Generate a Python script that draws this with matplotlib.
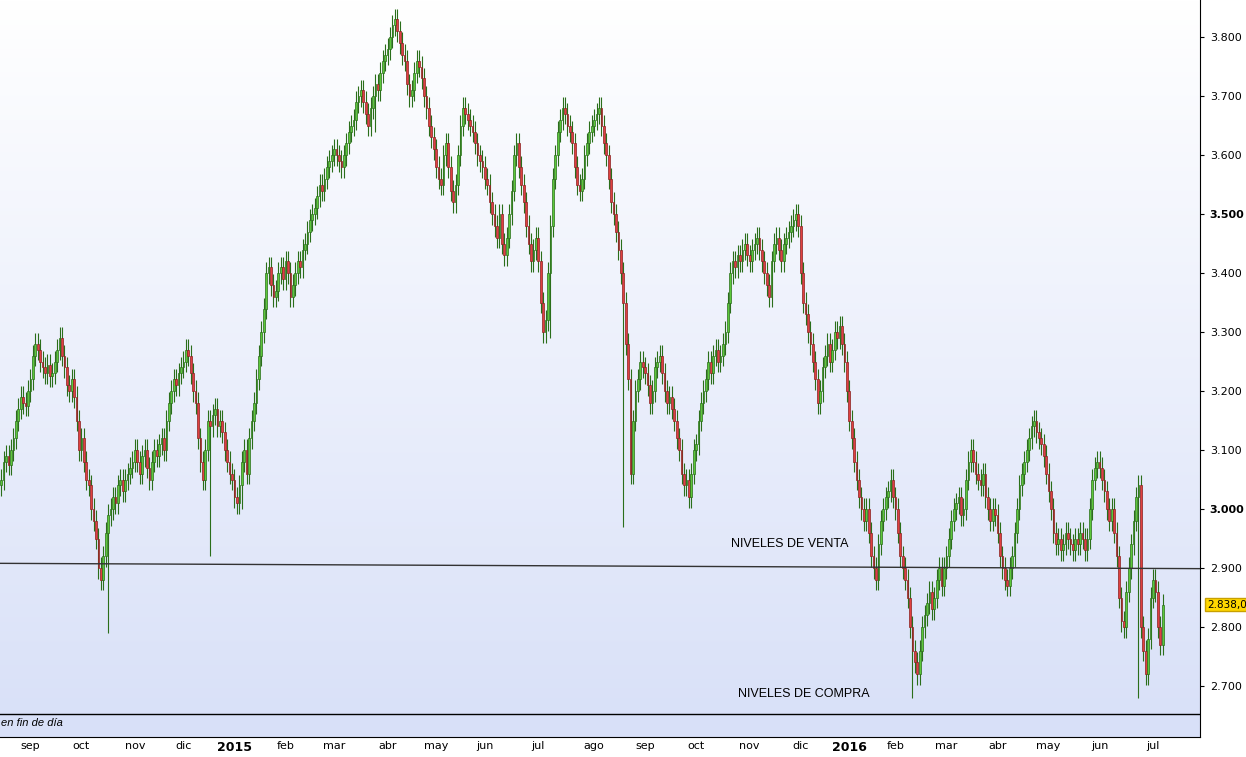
import matplotlib
matplotlib.use("Agg")
import matplotlib.pyplot as plt
import numpy as np
from matplotlib.colors import LinearSegmentedColormap

month_labels = ["sep","oct","nov","dic","2015","feb","mar","abr","may","jun","jul","ago",
                "sep","oct","nov","dic","2016","feb","mar","abr","may","jun","jul"]
closes_by_month = [
 [3050,3080,3090,3075,3100,3120,3150,3170,3190,3180,3175,3200],
 [3220,3260,3280,3270,3250,3240,3230,3245,3225,3230,3250,3270,3290,3260,3240,3210,3200,3220,3190,3150,3100],
 [3120,3080,3050,3040,3000,2980,2950,2900,2880,2920,2960,2990,3000,3020,3010,3040,3050,3030,3050,3060,3070,3080],
 [3100,3080,3060,3090,3100,3070,3050,3080,3100,3090,3110,3120,3100,3150,3180,3200,3220,3210,3230,3240],
 [3250,3270,3260,3230,3200,3180,3120,3080,3050,3100,3150,3140,3160,3170,3140,3150,3130,3100,3080,3060,3050],
 [3020,3010,3040,3080,3100,3060,3120,3150,3180,3220,3260,3300,3340,3400,3410,3380,3360,3370,3400,3410,3390],
 [3420,3400,3360,3380,3400,3420,3410,3440,3450,3470,3490,3500,3510,3530,3550,3540,3560,3580,3590,3600],
 [3610,3600,3590,3580,3600,3620,3640,3650,3660,3690,3700,3710,3690,3670,3650,3680,3700,3720,3710,3740,3760,3770],
 [3780,3800,3820,3830,3810,3790,3770,3760,3720,3700,3710,3740,3760,3750,3730,3700,3680,3650,3630,3610],
 [3580,3560,3550,3600,3620,3580,3540,3520,3550,3600,3650,3680,3670,3660,3650,3640,3620,3600,3590,3580],
 [3560,3550,3520,3500,3480,3460,3500,3450,3430,3460,3500,3540,3600,3620,3580,3550,3520,3480,3450,3420,3440,3460],
 [3420,3350,3300,3320,3400,3480,3560,3600,3640,3660,3680,3670,3650,3640,3620,3580,3550,3540,3560,3600,3620,3640,3650],
 [3660,3670,3680,3650,3620,3600,3560,3520,3500,3470,3440,3400,3350,3280,3220,3060,3150,3200,3220,3250,3240],
 [3230,3210,3180,3200,3240,3250,3260,3230,3200,3180,3190,3170,3150,3120,3100,3060,3040,3050,3020,3060,3100],
 [3110,3150,3180,3200,3220,3250,3230,3260,3270,3250,3260,3280,3300,3350,3400,3420,3410,3430,3420,3440,3450,3430],
 [3420,3440,3450,3460,3440,3420,3400,3380,3360,3420,3450,3460,3440,3420,3450,3460,3470,3480,3490,3500,3480],
 [3400,3350,3330,3300,3280,3250,3220,3180,3200,3240,3260,3280,3250,3270,3300,3290,3310,3280,3250,3200],
 [3150,3120,3080,3050,3020,3000,2980,3000,2960,2920,2900,2880,2940,2980,3000,3020,3030,3050,3020],
 [3000,2960,2920,2900,2880,2850,2800,2760,2740,2720,2760,2800,2820,2840,2860,2830,2850,2880,2900,2870,2900],
 [2920,2950,2980,3000,3010,3020,2990,3000,3050,3080,3100,3080,3060,3050,3040,3060,3020,3000,2980,3000,2990],
 [2960,2920,2900,2880,2870,2900,2920,2960,3000,3040,3060,3080,3100,3120,3140,3150,3130,3120,3110,3090,3060],
 [3030,3000,2960,2940,2950,2930,2940,2960,2950,2940,2930,2950,2940,2960,2950,2930,2950,3000,3050,3070,3080],
 [3070,3050,3030,3000,2980,3000,2960,2920,2850,2810,2800,2860,2900,2940,2980,3020,3040,2800,2760,2720,2780,2850],
 [2880,2860,2800,2770,2838],
]
# notable long lower wicks: (day index, low)
wick_lows = [(44, 2790), (86, 2920), (99, 3000), (154, 3640), (226, 3290), (256, 2970), (375, 2680), (468, 2680)]

closes = np.array([c for m in closes_by_month for c in m]) / 1000.0
opens = np.concatenate([[closes[0] - 0.01], closes[:-1]])
hi = np.maximum(opens, closes) + 0.018
lo = np.minimum(opens, closes) - 0.018
for i, l in wick_lows:
    lo[i] = min(lo[i], l / 1000.0)

month_starts = np.cumsum([len(m) for m in closes_by_month])[:-1]
n = len(closes)

fig = plt.figure(figsize=(12.46, 7.57), dpi=100)
ax = fig.add_axes([0, 20/757, 1200/1246, 737/757])
xmax = 1200/2.43 - 0.5
ax.set_xlim(-0.5, xmax)
ax.set_ylim(2.6136, 3.863)
grad = np.linspace(0, 1, 256).reshape(-1, 1)
cm = LinearSegmentedColormap.from_list("bg", ["#d8e0f8", "#ffffff"])
ax.imshow(grad, aspect="auto", cmap=cm, origin="lower",
          extent=[-0.5, xmax, 2.6136, 3.863], zorder=0)

x = np.arange(n)
up = closes >= opens
ax.vlines(x, lo, hi, color="#2a6e1a", lw=0.8, zorder=2)
for i in range(n):
    b = min(opens[i], closes[i]); h = max(abs(closes[i]-opens[i]), 0.002)
    fc = "#5cc83a" if up[i] else "#e04040"
    ec = "#2a6e1a" if up[i] else "#8a2020"
    ax.add_patch(plt.Rectangle((x[i]-0.35, b), 0.7, h, facecolor=fc, edgecolor=ec, lw=0.5, zorder=3))

ax.plot([-0.5, xmax], [2.908, 2.899], color="#333333", lw=1, zorder=4)
ax.axhline(2.6525, color="black", lw=1, zorder=4)
ax.text(730/2.43, 2.935, "NIVELES DE VENTA", fontsize=9, family="Liberation Sans")
ax.text(737/2.43, 2.682, "NIVELES DE COMPRA", fontsize=9, family="Liberation Sans")
ax.text(0, 2.633, "en fin de día", fontsize=8, style="italic", family="Liberation Sans")

ax.yaxis.tick_right()
yt = np.arange(2.7, 3.81, 0.1)
ax.set_yticks(yt)
labs = ax.set_yticklabels([f"{v:.3f}" for v in yt], fontsize=8)
for v, l in zip(yt, labs):
    if abs(v - 3.0) < 1e-6 or abs(v - 3.5) < 1e-6:
        l.set_fontweight("bold")
ax.tick_params(axis="y", length=3, pad=4)
ax.set_xticks(month_starts)
xl = ax.set_xticklabels(month_labels, fontsize=8)
for l in xl:
    if l.get_text() in ("2015", "2016"):
        l.set_fontweight("bold"); l.set_fontsize(9)
ax.tick_params(axis="x", length=0, pad=3)
for s in ["top", "left"]:
    ax.spines[s].set_visible(False)
ax.annotate("2.838,0", xy=(1.0, closes[-1]), xycoords=("axes fraction", "data"),
            xytext=(5, 0), textcoords="offset points", va="center", fontsize=7.5,
            bbox=dict(boxstyle="square,pad=0.15", fc="#ffd700", ec="#c8a000"))
fig.savefig("out.png", dpi=100)
